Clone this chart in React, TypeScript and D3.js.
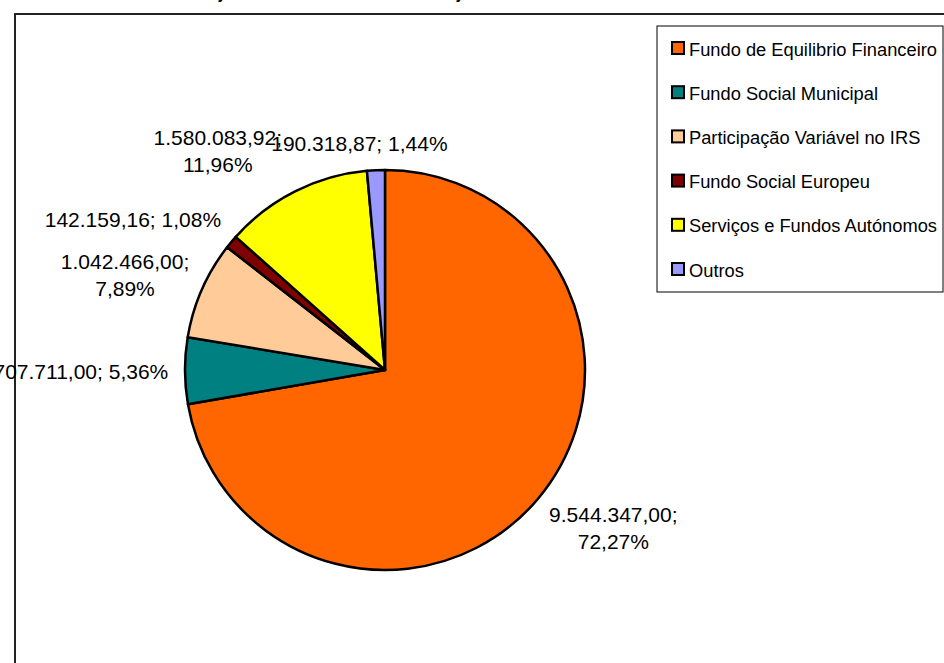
import React from "react";
import * as d3 from "d3";

const categories = [
  "Fundo de Equilibrio Financeiro",
  "Fundo Social Municipal",
  "Participação Variável no IRS",
  "Fundo Social Europeu",
  "Serviços e Fundos Autónomos",
  "Outros",
];
const values = [9544347.0, 707711.0, 1042466.0, 142159.16, 1580083.92, 190318.87];
const colors = ["#FF6600", "#008080", "#FFCC99", "#800000", "#FFFF00", "#9999FF"];
const labelWrap = [true, false, true, false, true, false];
const labelNudge: [number, number][] = [
  [17, 8],
  [-4, 1],
  [-7, -1.5],
  [-21.5, -9.5],
  [-43, -11],
  [-12, -7],
];

const W = 944;
const H = 663;
const FONT = "'Liberation Sans', Arial, Helvetica, sans-serif";
const LABEL_SIZE = 21;
const LEGEND_SIZE = 18.3;
const LINE_H = 27;

const locale = d3.formatLocale({
  decimal: ",",
  thousands: ".",
  grouping: [3],
  currency: ["", "€"],
});
const fmtVal = locale.format(",.2f");
const fmtPct = locale.format(".2%");

const charW: Record<string, number> = { ".": 0.278, ",": 0.278, ";": 0.278, " ": 0.278, "%": 0.889 };
function textWidth(s: string, size: number) {
  let w = 0;
  for (const c of s) w += charW[c] ?? 0.556;
  return w * size;
}

export default function App() {
  const cx = 385;
  const cy = 370;
  const r = 200;
  const total = d3.sum(values);
  const data = categories.map((c, i) => ({ name: c, value: values[i], color: colors[i], i }));
  const pie = d3.pie<any>().sort(null).value((d: any) => d.value);
  const arcs = pie(data);
  const arcGen = d3.arc<any>().innerRadius(0).outerRadius(r);

  const labels = arcs.map((a, i) => {
    const v = fmtVal(values[i]) + ";";
    const p = fmtPct(values[i] / total);
    const lines = labelWrap[i] ? [v, p] : [v + " " + p];
    const mid = (a.startAngle + a.endAngle) / 2;
    const s = Math.sin(mid);
    const c = Math.cos(mid);
    const ax = cx + s * (r + 12);
    const ay = cy - c * (r + 12);
    const w = d3.max(lines, (l) => textWidth(l, LABEL_SIZE)) as number;
    const h = (lines.length - 1) * LINE_H + 15;
    const lx = ax + (s * w) / 2 + labelNudge[i][0];
    const ly = ay - (c * h) / 2 + labelNudge[i][1];
    const firstBase = ly - ((lines.length - 1) * LINE_H) / 2 + 7.5;
    return { lines, lx, firstBase };
  });

  const legX = 657;
  const legY = 26;
  const legW = 286;
  const legH = 266;
  const itemY = d3.range(categories.length).map((i) => 48 + i * 44.2);

  return (
    <svg
      width={W}
      height={H}
      style={{ position: "absolute", left: 0, top: 0, background: "#fff" }}
      fontFamily={FONT}
    >
      <rect x={0} y={0} width={W} height={H} fill="#fff" />
      <text x={220} y={-1} fontSize={16} fontStyle="italic" fontWeight="bold" fontFamily={FONT}>
        j
      </text>
      <text x={458} y={-1} fontSize={16} fontStyle="italic" fontWeight="bold" fontFamily={FONT}>
        j
      </text>
      <rect x={15} y={14} width={1200} height={1200} fill="#fff" stroke="#222" strokeWidth={2} />
      <g transform={`translate(${cx},${cy})`}>
        {arcs.map((a, i) => (
          <path key={i} d={arcGen(a) as string} fill={colors[i]} stroke="#000" strokeWidth={2.5} strokeLinejoin="round" />
        ))}
      </g>
      {labels.map((l, i) => (
        <text key={i} fontSize={LABEL_SIZE} textAnchor="middle" fill="#000">
          {l.lines.map((line, j) => (
            <tspan key={j} x={l.lx} y={l.firstBase + j * LINE_H}>
              {line}
            </tspan>
          ))}
        </text>
      ))}
      <rect x={legX} y={legY} width={legW} height={legH} fill="#fff" stroke="#000" strokeWidth={1} />
      {categories.map((c, i) => (
        <g key={i}>
          <rect x={672} y={itemY[i] - 6} width={12} height={12} fill={colors[i]} stroke="#000" strokeWidth={2} />
          <text x={689} y={itemY[i] + 7.5} fontSize={LEGEND_SIZE} fill="#000">
            {c}
          </text>
        </g>
      ))}
    </svg>
  );
}
